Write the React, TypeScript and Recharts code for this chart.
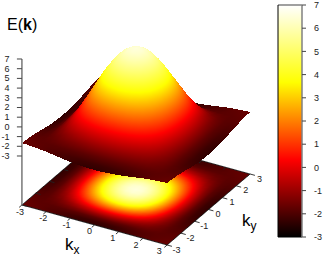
import React from "react";
import {
  Bar,
  ComposedChart,
  Line,
  ReferenceLine,
  Scatter,
  ScatterChart,
  XAxis,
  YAxis,
} from "recharts";

// grid of kx / ky values
const K_VALUES = [
  -3, -2.75, -2.5, -2.25, -2, -1.75, -1.5, -1.25, -1, -0.75, -0.5, -0.25, 0,
  0.25, 0.5, 0.75, 1, 1.25, 1.5, 1.75, 2, 2.25, 2.5, 2.75, 3,
];

// E for |kx| (rows) and |ky| (columns) = 0, 0.25 ... 3
const E_QUADRANT = [
  [6.55, 6.41, 6.01, 5.36, 4.5, 3.48, 2.34, 1.16, 0, -0.96, -1.76, -2.21, -2.38],
  [6.41, 6.28, 5.88, 5.24, 4.4, 3.39, 2.27, 1.1, -0.03, -0.98, -1.77, -2.21, -2.37],
  [6.01, 5.88, 5.5, 4.89, 4.09, 3.14, 2.07, 0.96, -0.13, -1.03, -1.78, -2.19, -2.34],
  [5.36, 5.24, 4.89, 4.34, 3.61, 2.73, 1.74, 0.72, -0.28, -1.12, -1.8, -2.17, -2.29],
  [4.5, 4.4, 4.09, 3.61, 2.96, 2.19, 1.31, 0.41, -0.49, -1.22, -1.82, -2.13, -2.23],
  [3.48, 3.39, 3.14, 2.73, 2.19, 1.54, 0.81, 0.05, -0.71, -1.33, -1.83, -2.09, -2.15],
  [2.34, 2.27, 2.07, 1.74, 1.31, 0.81, 0.23, -0.37, -0.96, -1.43, -1.82, -2.02, -2.06],
  [1.16, 1.1, 0.96, 0.72, 0.41, 0.05, -0.37, -0.79, -1.21, -1.54, -1.83, -1.95, -1.96],
  [0, -0.03, -0.13, -0.28, -0.49, -0.71, -0.96, -1.21, -1.47, -1.66, -1.84, -1.9, -1.87],
  [-0.96, -0.98, -1.03, -1.12, -1.22, -1.33, -1.43, -1.54, -1.66, -1.75, -1.82, -1.83, -1.8],
  [-1.76, -1.77, -1.78, -1.8, -1.82, -1.83, -1.82, -1.83, -1.84, -1.82, -1.81, -1.78, -1.74],
  [-2.21, -2.21, -2.19, -2.17, -2.13, -2.09, -2.02, -1.95, -1.9, -1.83, -1.78, -1.73, -1.69],
  [-2.38, -2.37, -2.34, -2.29, -2.23, -2.15, -2.06, -1.96, -1.87, -1.8, -1.74, -1.69, -1.66],
];

const K_TICKS = [-3, -2, -1, 0, 1, 2, 3];
const Z_TICKS = [-3, -2, -1, 0, 1, 2, 3, 4, 5, 6, 7];
const COLOR_RANGE = [-3, 7];

const BASE_Z = -8.05;

// fixed 3d view of the box
const projX = (kx: number, ky: number) => 136 + 24.2 * kx + 13.83 * ky;
const projY = (kx: number, ky: number, z: number) =>
  189.5 + 6.67 * kx - 11.83 * ky - 9.7 * (z - BASE_Z);

const energy = (i: number, j: number) =>
  E_QUADRANT[Math.abs(i - 12)][Math.abs(j - 12)];

// black - red - yellow - white
const heat = (z: number) => {
  const t = Math.min(1, Math.max(0, (z + 3) / 10));
  const c = (v: number) => Math.round(255 * Math.min(1, Math.max(0, v)));
  return `rgb(${c(3 * t)},${c(3 * t - 1)},${c(3 * t - 2)})`;
};

const PALETTE_KINKS = [1 / 3 * 10 - 3, 2 / 3 * 10 - 3];

type Pt = { x: number; y: number };

const triangle = (id: string, pts: Pt[], zs: number[]) => {
  const order = [0, 1, 2].sort((a, b) => zs[a] - zs[b]);
  const [A, B, C] = order.map((o) => pts[o]);
  const [za, zb, zc] = order.map((o) => zs[o]);
  const d = pts.map((p) => `${p.x},${p.y}`).join(" ");
  if (zc - za < 0.005) {
    return <polygon key={id} points={d} fill={heat((za + zc) / 2)} shapeRendering="crispEdges" />;
  }
  const f = (zb - za) / (zc - za);
  const px = A.x + (C.x - A.x) * f;
  const py = A.y + (C.y - A.y) * f;
  let nx = -(py - B.y);
  let ny = px - B.x;
  const len = Math.hypot(nx, ny);
  if (len < 0.001) {
    nx = C.x - A.x;
    ny = C.y - A.y;
  }
  const nn = Math.hypot(nx, ny);
  nx /= nn;
  ny /= nn;
  const dist = (C.x - A.x) * nx + (C.y - A.y) * ny;
  const kinks = PALETTE_KINKS.filter((k) => k > za && k < zc);
  const stops = [za, ...kinks, zc];
  return (
    <g key={id}>
      <linearGradient
        id={id}
        gradientUnits="userSpaceOnUse"
        x1={A.x}
        y1={A.y}
        x2={A.x + nx * dist}
        y2={A.y + ny * dist}
      >
        {stops.map((s, n) => (
          <stop key={n} offset={(s - za) / (zc - za)} stopColor={heat(s)} />
        ))}
      </linearGradient>
      <polygon points={d} fill={`url(#${id})`} shapeRendering="crispEdges" />
    </g>
  );
};

const meshLine = (prefix: string) => (props: any) => {
  const p: Pt[] = props.points;
  const n = K_VALUES.length;
  const out: React.ReactNode[] = [];
  for (let i = 0; i < n - 1; i++) {
    for (let j = n - 2; j >= 0; j--) {
      const a = i * n + j;
      const b = (i + 1) * n + j;
      const c = (i + 1) * n + j + 1;
      const e = i * n + j + 1;
      out.push(
        triangle(`${prefix}${i}_${j}a`, [p[e], p[a], p[c]], [
          energy(i, j + 1),
          energy(i, j),
          energy(i + 1, j + 1),
        ]),
        triangle(`${prefix}${i}_${j}b`, [p[a], p[b], p[c]], [
          energy(i, j),
          energy(i + 1, j),
          energy(i + 1, j + 1),
        ])
      );
    }
  }
  return <g>{out}</g>;
};

const surfacePoints = K_VALUES.flatMap((kx, i) =>
  K_VALUES.map((ky, j) => ({ x: projX(kx, ky), y: projY(kx, ky, energy(i, j)) }))
);
const basePoints = K_VALUES.flatMap((kx) =>
  K_VALUES.map((ky) => ({ x: projX(kx, ky), y: projY(kx, ky, BASE_Z) }))
);

const seg = (kx0: number, ky0: number, z0: number, kx1: number, ky1: number, z1: number) => [
  { x: projX(kx0, ky0), y: projY(kx0, ky0, z0) },
  { x: projX(kx1, ky1), y: projY(kx1, ky1, z1) },
];

const backEdges = [
  ...seg(-3, -3, BASE_Z, -3, 3, BASE_Z),
  ...seg(-3, 3, BASE_Z, 3, 3, BASE_Z),
  ...K_TICKS.flatMap((k) => seg(-3, k, BASE_Z, -2.8, k, BASE_Z)),
  ...K_TICKS.flatMap((k) => seg(k, 3, BASE_Z, k, 2.8, BASE_Z)),
];
const frontEdges = [
  ...seg(-3, -3, BASE_Z, 3, -3, BASE_Z),
  ...seg(3, -3, BASE_Z, 3, 3, BASE_Z),
  ...K_TICKS.flatMap((k) => seg(k, -3, BASE_Z, k, -3.2, BASE_Z)),
  ...K_TICKS.flatMap((k) => seg(3, k, BASE_Z, 3.2, k, BASE_Z)),
];
const zAxisLine = seg(-3, -3, BASE_Z, -3, -3, 7);
const zTickMarks = Z_TICKS.flatMap((z) => {
  const y = projY(-3, -3, z);
  return [
    { x: projX(-3, -3) - 5, y },
    { x: projX(-3, -3), y },
  ];
});

const segments = (stroke: string, width: number) => (props: any) => {
  const p: Pt[] = props.points;
  const out: React.ReactNode[] = [];
  for (let i = 0; i + 1 < p.length; i += 2) {
    out.push(
      <line key={i} x1={p[i].x} y1={p[i].y} x2={p[i + 1].x} y2={p[i + 1].y} stroke={stroke} strokeWidth={width} />
    );
  }
  return <g>{out}</g>;
};

const kxLabels = K_TICKS.map((k, i) => ({
  x: 20 + i * 23.2,
  y: 211.5 + i * 6.65,
  label: String(k),
}));
const kyLabels = K_TICKS.map((k) => ({
  x: projX(3, k) + 9.5,
  y: projY(3, k, BASE_Z) + 4.5,
  label: String(k),
}));
const zLabels = Z_TICKS.map((z) => ({
  x: 9.5,
  y: projY(-3, -3, z),
  label: String(z),
}));

const FONT = "'Liberation Sans', Arial, sans-serif";

const tickText = (anchor: "middle" | "end") => (props: any) => (
  <text
    x={props.cx}
    y={props.cy}
    textAnchor={anchor}
    dominantBaseline="central"
    fontSize={9}
    fontFamily={FONT}
    fill="#222"
  >
    {props.payload.label}
  </text>
);

const titleText = (props: any) => (
  <text x={props.cx} y={props.cy} fontSize={16} fontFamily={FONT} fill="#000">
    E(<tspan fontWeight="bold">k</tspan>)
  </text>
);

const subText = (props: any) => (
  <text x={props.cx} y={props.cy} fontSize={17} fontFamily={FONT} fill="#000">
    k
    <tspan fontSize={12} dy={4}>
      {props.payload.sub}
    </tspan>
  </text>
);

const noDot = () => <g />;

const colorbarData = [{ name: "E", range: COLOR_RANGE, low: null }];

export default function App() {
  return (
    <div style={{ position: "absolute", left: 0, top: 0, width: 323, height: 256 }}>
      <div style={{ position: "absolute", left: 0, top: 0 }}>
        <ScatterChart width={323} height={256} margin={{ top: 0, right: 0, bottom: 0, left: 0 }}>
          <XAxis type="number" dataKey="x" domain={[0, 323]} hide />
          <YAxis type="number" dataKey="y" domain={[0, 256]} reversed hide />
          <Scatter data={basePoints} shape={noDot} line={meshLine("b")} isAnimationActive={false} />
          <Scatter data={backEdges} shape={noDot} line={segments("#222", 0.9)} isAnimationActive={false} />
          <Scatter data={zAxisLine} shape={noDot} line={segments("#808080", 1.6)} isAnimationActive={false} />
          <Scatter data={zTickMarks} shape={noDot} line={segments("#444", 1)} isAnimationActive={false} />
          <Scatter data={surfacePoints} shape={noDot} line={meshLine("s")} isAnimationActive={false} />
          <Scatter data={frontEdges} shape={noDot} line={segments("#222", 0.9)} isAnimationActive={false} />
          <Scatter data={zLabels} shape={tickText("end")} isAnimationActive={false} />
          <Scatter data={kxLabels} shape={tickText("middle")} isAnimationActive={false} />
          <Scatter data={kyLabels} shape={tickText("middle")} isAnimationActive={false} />
          <Scatter data={[{ x: 7, y: 30 }]} shape={titleText} isAnimationActive={false} />
          <Scatter data={[{ x: 65, y: 250, sub: "x" }]} shape={subText} isAnimationActive={false} />
          <Scatter data={[{ x: 242, y: 226, sub: "y" }]} shape={subText} isAnimationActive={false} />
        </ScatterChart>
      </div>
      <div style={{ position: "absolute", left: 270, top: 0 }}>
        <ComposedChart
          width={53}
          height={256}
          data={colorbarData}
          barCategoryGap={0}
          margin={{ top: 5, right: 0, bottom: 19, left: 0 }}
        >
          <defs>
            <linearGradient id="cbFill" x1="0" y1="1" x2="0" y2="0">
              <stop offset={0} stopColor={heat(-3)} />
              <stop offset={1 / 3} stopColor={heat(PALETTE_KINKS[0])} />
              <stop offset={2 / 3} stopColor={heat(PALETTE_KINKS[1])} />
              <stop offset={1} stopColor={heat(7)} />
            </linearGradient>
          </defs>
          <XAxis dataKey="name" hide />
          <YAxis
            yAxisId="left"
            orientation="left"
            width={8}
            domain={[COLOR_RANGE[0], COLOR_RANGE[1]]}
            ticks={Z_TICKS}
            interval={0}
            tickSize={4}
            tick={noDot}
            axisLine={{ stroke: "#000" }}
            tickLine={{ stroke: "#444" }}
          />
          <YAxis
            yAxisId="right"
            orientation="right"
            width={21}
            domain={[COLOR_RANGE[0], COLOR_RANGE[1]]}
            ticks={Z_TICKS}
            interval={0}
            tickSize={4}
            tickMargin={8}
            tick={{ fontSize: 9, fontFamily: FONT, fill: "#222" }}
            axisLine={{ stroke: "#808080", strokeWidth: 1.5 }}
            tickLine={{ stroke: "#444" }}
          />
          <Bar yAxisId="right" dataKey="range" fill="url(#cbFill)" isAnimationActive={false} />
          <Line yAxisId="left" dataKey="low" stroke="none" dot={false} isAnimationActive={false} />
          <ReferenceLine yAxisId="right" y={7} stroke="#808080" strokeWidth={1.5} />
          <ReferenceLine yAxisId="right" y={-3} stroke="#000" />
        </ComposedChart>
      </div>
    </div>
  );
}
